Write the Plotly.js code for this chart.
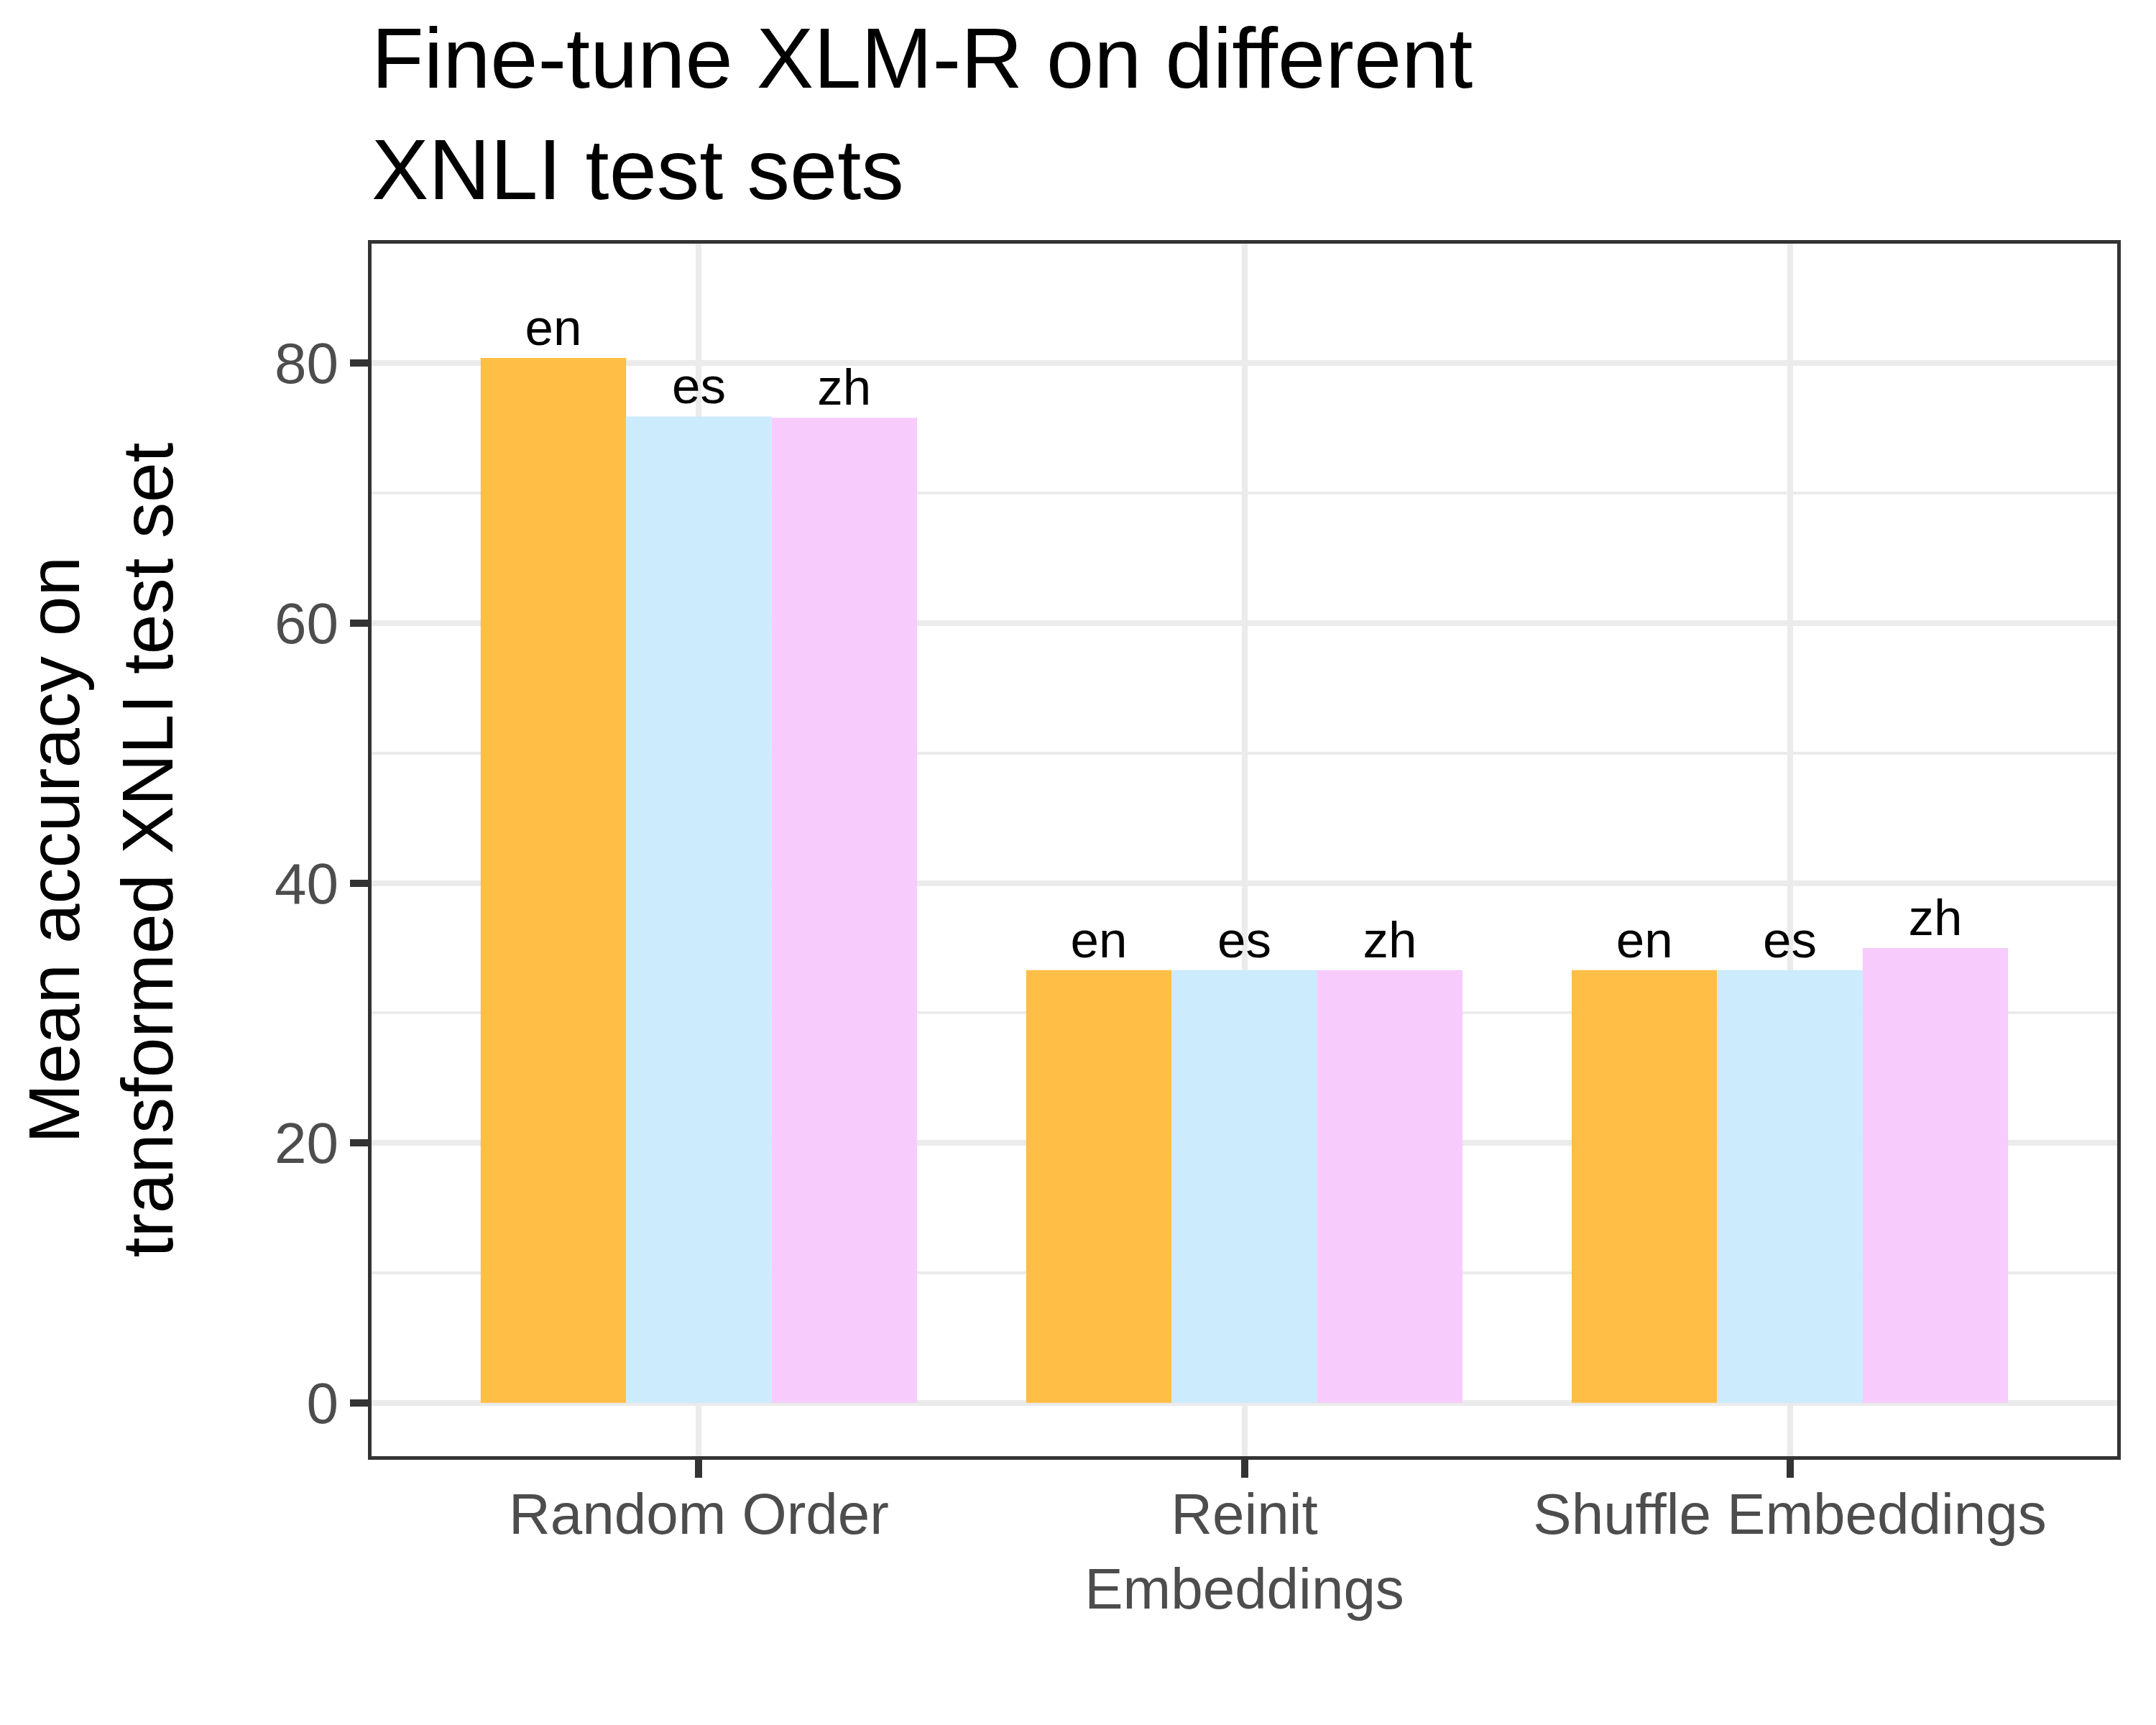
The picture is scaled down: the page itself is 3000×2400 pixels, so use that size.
<!DOCTYPE html>
<html>
<head>
<meta charset="utf-8">
<script src="https://cdn.plot.ly/plotly-3.0.1.min.js"></script>
<style>
  html, body { margin: 0; padding: 0; background: #fff; }
  #chart { width: 3000px; height: 2400px; }
</style>
</head>
<body>
<div id="chart"></div>
<script>
const categories = ["Random Order", "Reinit<br>Embeddings", "Shuffle Embeddings"];
const languages = ["en", "es", "zh"];
const enValues = [80.4, 33.3, 33.3];
const esValues = [75.9, 33.3, 33.3];
const zhValues = [75.8, 33.3, 35.0];
const langColors = ["#FFBE46", "#CCEBFC", "#F8CBFD"];

const FONT = "Liberation Sans, Arial, sans-serif";

const seriesValues = [enValues, esValues, zhValues];

// one trace per language, labelled with its own name above each bar
const traces = languages.map((lang, i) => ({
  type: "bar",
  name: lang,
  x: categories,
  y: seriesValues[i],
  text: seriesValues[i].map(() => lang),
  textposition: "outside",
  textfont: { family: FONT, size: 71, color: "#000000" },
  constraintext: "none",
  cliponaxis: false,
  marker: { color: langColors[i], line: { width: 0 } },
  hoverinfo: "x+y+name",
}));

const layout = {
  width: 3000,
  height: 2400,
  paper_bgcolor: "#ffffff",
  plot_bgcolor: "#ffffff",
  showlegend: false,
  barmode: "group",
  bargap: 0.2,
  bargroupgap: 0,
  margin: { l: 517, r: 54, t: 339, b: 374 },
  font: { family: FONT, color: "#000000" },
  title: {
    text: "Fine-tune XLM-R on different<br>XNLI test sets",
    font: { family: FONT, size: 119, color: "#000000" },
    xref: "paper",
    x: 0,
    xanchor: "left",
    yref: "container",
    y: 0.949,
    yanchor: "top",
  },
  xaxis: {
    type: "category",
    range: [-0.6, 2.6],
    showgrid: true,
    gridcolor: "#EBEBEB",
    gridwidth: 8,
    zeroline: false,
    showline: true,
    mirror: true,
    linecolor: "#333333",
    linewidth: 5,
    ticks: "outside",
    ticklen: 25,
    tickwidth: 10,
    tickcolor: "#333333",
    ticklabelstandoff: -18,
    tickfont: { family: FONT, size: 80, color: "#4D4D4D" },
  },
  yaxis: {
    range: [-4.1, 89.2],
    dtick: 20,
    tick0: 0,
    showgrid: true,
    gridcolor: "#EBEBEB",
    gridwidth: 8,
    minor: { dtick: 10, tick0: 0, showgrid: true, gridcolor: "#EBEBEB", gridwidth: 4, ticks: "" },
    zeroline: false,
    showline: true,
    mirror: true,
    linecolor: "#333333",
    linewidth: 5,
    ticks: "outside",
    ticklen: 25,
    tickwidth: 10,
    tickcolor: "#333333",
    tickfont: { family: FONT, size: 80, color: "#4D4D4D" },
    title: {
      text: "Mean accuracy on<br>transformed XNLI test set",
      font: { family: FONT, size: 100, color: "#000000" },
      standoff: 110,
    },
  },
};

Plotly.newPlot("chart", traces, layout, { displayModeBar: false, staticPlot: true });
</script>
</body>
</html>
